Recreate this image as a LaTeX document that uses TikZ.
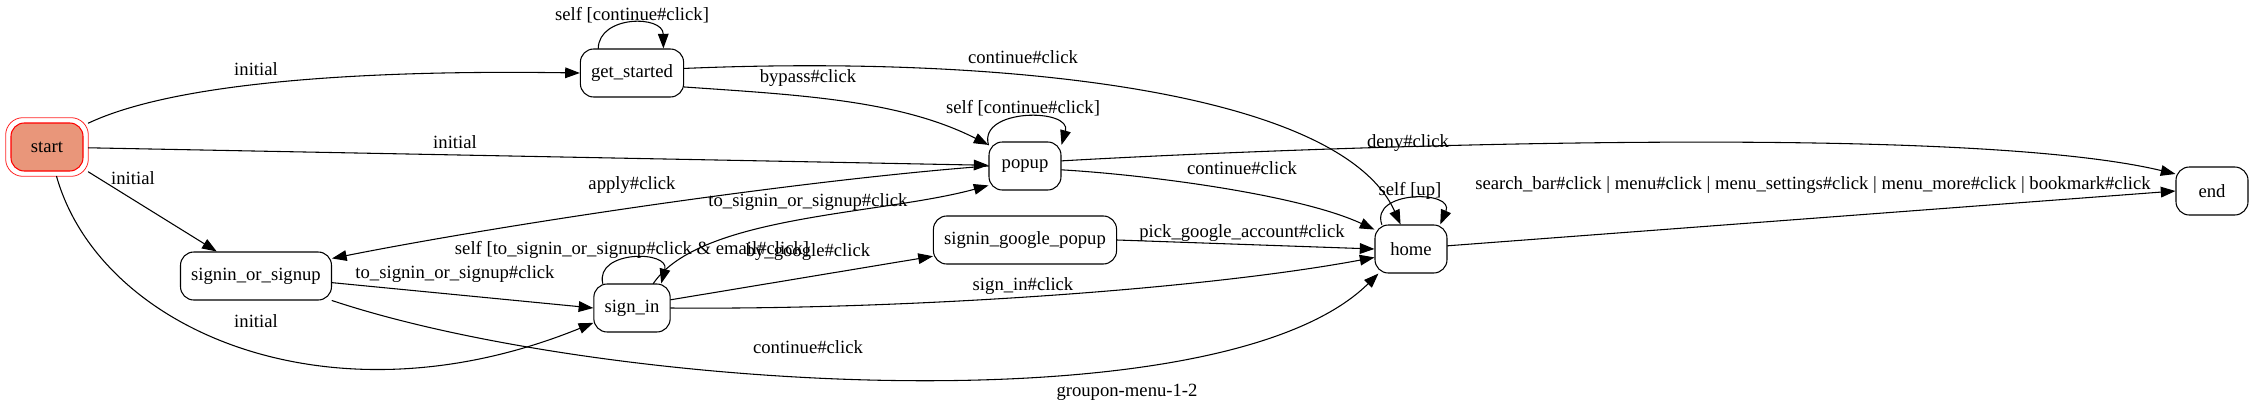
\documentclass[tikz,border=0pt]{standalone}
\usepackage{fontspec}
\setmainfont{Liberation Serif}
\usetikzlibrary{arrows.meta}
\definecolor{startfill}{HTML}{E9967A}

\begin{document}
\begin{tikzpicture}[x=0.75pt, y=-0.75pt, line join=round, line cap=round, thick,
	font=\fontsize{14pt}{17pt}\selectfont,
	state/.style={draw, rounded corners=10pt, minimum width=54pt, minimum height=36pt, inner xsep=8pt},
	edge/.style={-{Triangle[length=11pt,width=8pt]}},
	lbl/.style={inner sep=0pt}]
	\useasboundingbox (0,0) rectangle (2253,414);
	% states
	\node[state, draw=red, fill=startfill, outer sep=4pt] (start) at (47,147) {start};
	\draw[red!85, semithick, rounded corners=13pt] (start.north west) rectangle (start.south east);
	\node[state] (get_started) at (632,73) {get\_started};
	\node[state] (popup) at (1025,166) {popup};
	\node[state] (signin_or_signup) at (256,276) {signin\_or\_signup};
	\node[state] (sign_in) at (632,308) {sign\_in};
	\node[state] (signin_google_popup) at (1025,240) {signin\_google\_popup};
	\node[state] (home) at (1411,249) {home};
	\node[state] (end) at (2212,191) {end};
	% transitions
	\draw[edge] (start.30) .. controls (180,80) and (380,70) .. (get_started.west);
	\draw[edge] (start) -- (popup);
	\draw[edge] (start.-31) -- (signin_or_signup.148);
	\draw[edge] (start.-72) .. controls (100,330) and (330,430) .. (sign_in.201);
	\draw[edge] (get_started.144) .. controls (599,15) and (663,15) .. (get_started.38);
	\draw[edge] (get_started.5) .. controls (1000,55) and (1340,90) .. (home.113);
	\draw[edge] (get_started.-15) .. controls (800,95) and (900,100) .. (popup.150);
	\draw[edge] (popup.150) .. controls (978,108) and (1072,108) .. (popup.30);
	\draw[edge] (popup.8) .. controls (1250,150) and (1950,120) .. (end.155);
	\draw[edge] (popup.-6) .. controls (1150,175) and (1300,195) .. (home.152);
	\draw[edge] (popup.west) .. controls (800,180) and (500,225) .. (signin_or_signup.13);
	\draw[edge] (sign_in.49) .. controls (700,215) and (880,215) .. (popup.208);
	\draw[edge] (sign_in.140) .. controls (595,250) and (670,250) .. (sign_in.40);
	\draw[edge] (signin_or_signup.-5) -- (sign_in.west);
	\draw[edge] (signin_or_signup.south east) .. controls (600,390) and (1220,430) .. (home.217);
	\draw[edge] (sign_in.12) -- (signin_google_popup.190);
	\draw[edge] (sign_in.east) .. controls (900,310) and (1200,290) .. (home.193);
	\draw[edge] (signin_google_popup.east) -- (home.west);
	\draw[edge] (home.140) .. controls (1370,190) and (1455,190) .. (home.40);
	\draw[edge] (home.5) -- (end.west);
	% labels
	\node[lbl] (init_gs) at (256,69) {initial};
	\node[lbl] (init_pp) at (455,142) {initial};
	\node[lbl] (init_ss) at (133,178) {initial};
	\node[lbl] (init_si) at (256,321) {initial};
	\node[lbl] (self_gs) at (632,15) {self [continue\#click]};
	\node[lbl] (cont_gs) at (1023,57) {continue\#click};
	\node[lbl] (bypass) at (808,78) {bypass\#click};
	\node[lbl] (self_pp) at (1023,108) {self [continue\#click]};
	\node[lbl] (deny) at (1408,143) {deny\#click};
	\node[lbl] (cont_pp) at (1242,168) {continue\#click};
	\node[lbl] (apply) at (632,185) {apply\#click};
	\node[lbl] (to_ss_si) at (808,202) {to\_signin\_or\_signup\#click};
	\node[lbl] (self_si) at (632,250) {self [to\_signin\_or\_signup\#click \& email\#click]};
	\node[lbl] (by_google) at (808,252) {by\_google\#click};
	\node[lbl] (to_ss_ss) at (455,274) {to\_signin\_or\_signup\#click};
	\node[lbl] (self_hm) at (1410,191) {self [up]};
	\node[lbl] (pick) at (1242,233) {pick\_google\_account\#click};
	\node[lbl] (sign_in_click) at (1023,286) {sign\_in\#click};
	\node[lbl] (cont_ss) at (808,347) {continue\#click};
	\node[lbl] (to_end) at (1813,185) {search\_bar\#click | menu\#click | menu\_settings\#click | menu\_more\#click | bookmark\#click};
	\node[lbl] (title) at (1127,392) {groupon-menu-1-2};
\end{tikzpicture}
\end{document}
